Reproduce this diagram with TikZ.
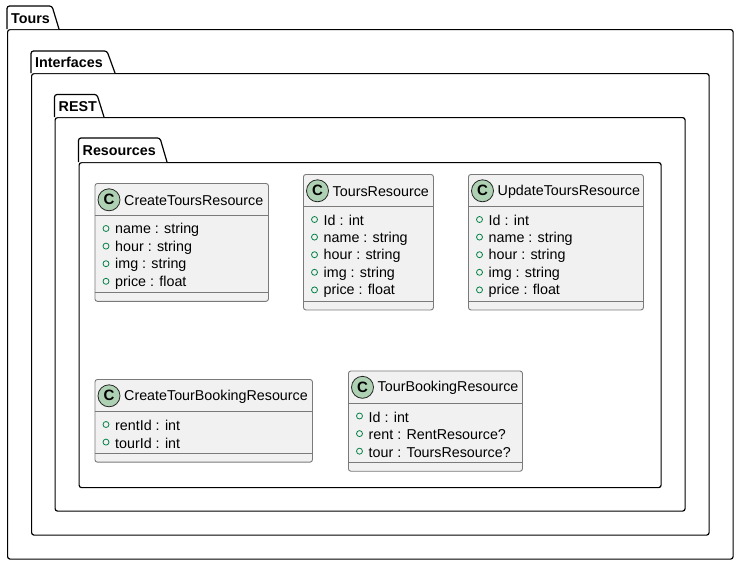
\documentclass[tikz,border=0pt]{standalone}
\usepackage{fontspec}
\setmainfont{Liberation Sans}
\definecolor{clsfill}{HTML}{F1F1F1}
\definecolor{clsborder}{HTML}{7A7A7A}
\definecolor{spotfill}{HTML}{ADD1B2}
\definecolor{visgreen}{HTML}{038048}
\tikzset{
  pkg/.style={draw=black,line width=1.2pt,fill=white,rounded corners=2.5pt},
  pkglabel/.style={font=\fontsize{14.3}{16}\selectfont\bfseries,inner sep=0pt,anchor=west},
  cls/.style={draw=clsborder,line width=0.9pt,fill=clsfill,rounded corners=2.5pt,inner sep=0pt,anchor=north west},
  clsline/.style={draw=clsborder,line width=0.9pt},
  spot/.style={circle,draw=black!85,line width=0.8pt,fill=spotfill,minimum size=22pt,inner sep=0pt,font=\fontsize{15}{16}\selectfont\bfseries},
  clstitle/.style={font=\fontsize{14.3}{16}\selectfont,inner sep=0pt,anchor=west},
  attr/.style={font=\fontsize{14.3}{16}\selectfont,inner sep=0pt,anchor=west},
  vis/.style={draw=visgreen,line width=0.8pt}
}
% package: #1 name, #2 label, #3 left, #4 tab top, #5 body top, #6 right, #7 bottom,
% #8 tab top-right x, #9 tab slant end x
\newcommand\umlpackage[9]{%
  \node[pkg,minimum width={(#6-#3)*1pt},minimum height={(#7-#5)*1pt},inner sep=0pt,anchor=north west] (#1) at (#3,#5) {};
  \draw[pkg] (#3,#5) -- (#3,#4) -- (#8,#4) -- (#9,#5);
  \node[pkglabel] (#1-label) at (#3+4,{(#4+#5)/2+0.8}) {#2};
}
% class: #1 name, #2 left, #3 top, #4 right, #5 title, #6 attributes, #7 number of attributes
\newcommand\umlclass[7]{%
  \pgfmathsetmacro\cW{#4-#2}%
  \pgfmathsetmacro\cS{#3+32.5}%
  \pgfmathsetmacro\cE{\cS+6.5+#7*17.6}%
  \pgfmathsetmacro\cH{\cE+8.5-#3}%
  \node[cls,minimum width=\cW pt,minimum height=\cH pt] (#1) at (#2,#3) {};
  \draw[clsline] (#2,\cS) -- (#4,\cS);
  \draw[clsline] (#2,\cE) -- (#4,\cE);
  \node[spot] (#1-spot) at (#2+14.5,#3+16.8) {C};
  \node[clstitle] (#1-title) at (#2+29.5,#3+17.5) {#5};
  \foreach \a [count=\i] in {#6} {
    \pgfmathsetmacro\ry{\cS+13+(\i-1)*17.6}
    \draw[vis] (#2+11.5,\ry) circle (3);
    \node[attr] (#1-a\i) at (#2+20.5,\ry+1.2) {\a};
  }%
}
\begin{document}
\begin{tikzpicture}[x=1pt,y=-1pt]
\useasboundingbox (0,0) rectangle (738,565);
% nested packages
\umlpackage{tours}{Tours}{7}{6}{29}{732.5}{558.5}{52}{59}
\umlpackage{interfaces}{Interfaces}{31}{51}{73}{708.5}{534.5}{107}{115}
\umlpackage{rest}{REST}{54.5}{94.5}{117}{684.5}{510.5}{97}{104}
\umlpackage{resources}{Resources}{78.5}{138}{162}{660.5}{487}{160}{167}
% classes
\umlclass{createtours}{94.5}{183}{268}{CreateToursResource}{name : string,hour : string,img : string,price : float}{4}
\umlclass{toursres}{303}{174}{433}{ToursResource}{Id : int,name : string,hour : string,img : string,price : float}{5}
\umlclass{updatetours}{468}{174}{643}{UpdateToursResource}{Id : int,name : string,hour : string,img : string,price : float}{5}
\umlclass{createbooking}{94.5}{379}{312}{CreateTourBookingResource}{rentId : int,tourId : int}{2}
\umlclass{booking}{348}{370.5}{522}{TourBookingResource}{Id : int,rent : RentResource?,tour : ToursResource?}{3}
\end{tikzpicture}
\end{document}
